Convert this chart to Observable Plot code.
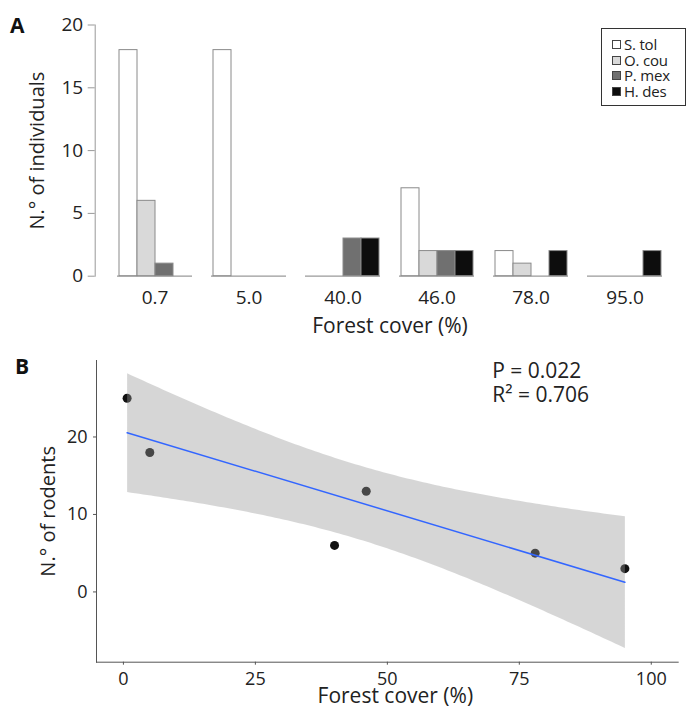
<!DOCTYPE html>
<html><head><meta charset="utf-8">
<script src="https://cdn.jsdelivr.net/npm/d3@7"></script>
<script src="https://cdn.jsdelivr.net/npm/@observablehq/plot@0.6"></script>
<style>
body{margin:0;background:#fff;font-family:"Open Sans",sans-serif}
#wrap{position:relative;width:686px;height:709px;overflow:hidden}
#a,#b{display:block;line-height:0}
.letter{position:absolute;font-weight:bold;font-size:21px;line-height:21px;color:#111}
#legend{position:absolute;left:601px;top:28px;width:85px;height:78px;border:1px solid #333;box-sizing:border-box;background:#fff;padding:8px 0 0 10px;font-size:15px;color:#222}
#legend .row{height:15.6px;line-height:15.6px;display:flex;align-items:center;white-space:nowrap}
#legend .row span{display:inline-block;height:15.6px;line-height:15.6px;letter-spacing:-0.2px}
#legend .sw{width:9px;height:9px;border:1px solid #444;box-sizing:border-box;margin-right:3px;flex:none}
</style></head><body>
<div id="wrap">
  <div id="a"></div><div id="b"></div>
  <div class="letter" style="left:10px;top:14.7px">A</div>
  <div class="letter" style="left:15px;top:356.4px">B</div>
  <div id="legend"></div>
</div>
<script>
// Panel A data
const coverLabels = ["0.7","5.0","40.0","46.0","78.0","95.0"];
const species = ["S. tol","O. cou","P. mex","H. des"];
const speciesColors = ["#ffffff","#d9d9d9","#707070","#0d0d0d"];
const sTol = [18,18,0,7,2,0];
const oCou = [6,0,0,2,1,0];
const pMex = [1,0,3,2,0,0];
const hDes = [0,0,3,2,2,2];
const countTicks = [0,5,10,15,20];

// Panel B data
const forestCover = [0.7,5,40,46,78,95];
const rodents = [25,18,6,13,5,3];
const coverTicks = [0,25,50,75,100];
const rodentTicks = [0,10,20];
const statsText = ["P = 0.022","R² = 0.706"];
const xTitle = "Forest cover (%)";

const seriesBySpecies = [sTol,oCou,pMex,hDes];
const rows = [];
coverLabels.forEach((c,i)=>species.forEach((s,j)=>rows.push({cover:c,species:s,count:seriesBySpecies[j][i]})));
const pts = forestCover.map((x,i)=>({cover:x,rodents:rodents[i]}));

const font = "'Open Sans', sans-serif";
const axisShift = -22.3;

const plotA = Plot.plot({
  width: 686, height: 340,
  marginTop: 24.5, marginBottom: 64.3, marginLeft: 95, marginRight: 1,
  style: {fontFamily: font, fontSize: "19px", color: "#222", background: "#fff"},
  fx: {domain: coverLabels, paddingInner: 0.2, paddingOuter: 0.237, axis: null},
  x: {domain: species, padding: 0, axis: null},
  y: {domain: [0,20], axis: null},
  color: {domain: species, range: speciesColors},
  marks: [
    Plot.ruleY([0], {stroke: "#9a9a9a", strokeWidth: 1.2}),
    Plot.barY(rows, {fx: "cover", x: "species", y: "count", fill: "species", stroke: "#8a8a8a", strokeWidth: 1}),
    Plot.axisFx({anchor: "bottom", tickSize: 0, tickPadding: 14, fontSize: 19, label: null}),
    Plot.axisFx({anchor: "bottom", tickSize: 0, text: null, fontSize: 21, label: xTitle, labelAnchor: "center", labelArrow: "none", labelOffset: 57}),
    Plot.axisY({facetAnchor: "left", dx: axisShift, ticks: countTicks, tickSize: 7, tickPadding: 5, stroke: "#999", fontSize: 19, label: null}),
    Plot.axisY({facetAnchor: "left", ticks: [], fontSize: 20, label: "N.° of individuals", labelAnchor: "center", labelArrow: "none", labelOffset: 88}),
    Plot.frame({facetAnchor: "left", anchor: "left", dx: axisShift, stroke: "#999"})
  ]
});
document.getElementById("a").append(plotA);

const plotB = Plot.plot({
  width: 686, height: 369,
  marginTop: 20, marginBottom: 47.3, marginLeft: 96, marginRight: 8.3,
  style: {fontFamily: font, fontSize: "18px", color: "#222", background: "#fff"},
  x: {domain: [-5.1, 105.1], axis: null},
  y: {domain: [-9.07, 29.87], axis: null},
  marks: [
    Plot.dot(pts, {x: "cover", y: "rodents", r: 4.5, fill: "#111", stroke: "none"}),
    Plot.linearRegressionY(pts, {x: "cover", y: "rodents", ci: 0.95, stroke: "#3366FF", strokeWidth: 1.5, fill: "#999", fillOpacity: 0.4}),
    Plot.frame({anchor: "left", stroke: "#555"}),
    Plot.frame({anchor: "bottom", stroke: "#555"}),
    Plot.axisX({ticks: coverTicks, tickSize: 3, tickPadding: 7, stroke: "#555", fontSize: 18, label: null}),
    Plot.text([xTitle], {frameAnchor: "bottom", dx: 8, dy: 34.5, lineAnchor: "middle", fontSize: 21, fill: "#222"}),
    Plot.axisY({ticks: rodentTicks, tickSize: 3, tickPadding: 6, stroke: "#555", fontSize: 18, label: null}),
    Plot.axisY({ticks: [], fontSize: 20, label: "N.° of rodents", labelAnchor: "center", labelArrow: "none", labelOffset: 56}),
    Plot.text([statsText.join("\n")], {frameAnchor: "top-left", dx: 395.7, dy: 1, textAnchor: "start", lineAnchor: "top", fontSize: 21, lineHeight: 1.13, fill: "#222"})
  ]
});
document.getElementById("b").append(plotB);

// legend built from the same colour scale as panel A
const colorScale = plotA.scale("color");
const legend = d3.select("#legend");
species.forEach(s => {
  const row = legend.append("div").attr("class", "row");
  row.append("div").attr("class", "sw").style("background", colorScale.apply(s));
  row.append("span").text(s);
});
</script>
</body></html>
